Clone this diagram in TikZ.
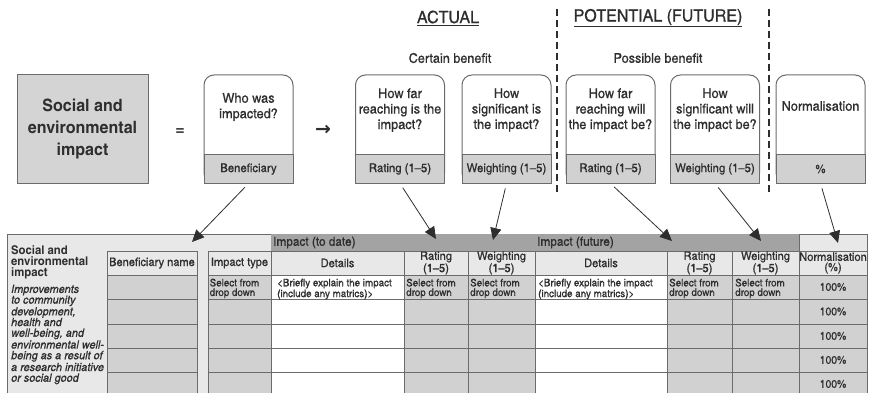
\documentclass[tikz,border=0pt]{standalone}
\usepackage{fontspec}
\setmainfont{texgyreheroscn}[Extension=.otf,UprightFont=*-regular,BoldFont=*-bold,ItalicFont=*-italic,BoldItalicFont=*-bolditalic,
  FakeStretch=1.15,UprightFeatures={FakeBold=0.6},ItalicFeatures={FakeBold=0.6}]
\newfontfamily\symfont{DejaVu Sans}
\usetikzlibrary{arrows.meta}

\definecolor{boxgray}{gray}{0.83}
\definecolor{tablebg}{gray}{0.91}
\definecolor{bandgray}{gray}{0.64}
\definecolor{cellgray}{gray}{0.82}
\definecolor{linegray}{gray}{0.42}
\definecolor{inkgray}{gray}{0.18}

\tikzset{
  qbox/.style={draw=linegray, line width=1pt, fill=white, rounded corners=10pt,
    minimum width=89pt, minimum height=108pt, inner sep=0pt},
  qtext/.style={align=center, inner sep=0pt, text=inkgray, font=\fontsize{13.5}{15.5}\selectfont},
  lblbox/.style={draw=linegray, line width=1pt, fill=cellgray, minimum width=89pt,
    minimum height=28pt, inner sep=0pt, text=inkgray, font=\fontsize{12}{13}\selectfont},
  hcell/.style={draw=linegray, line width=0.8pt, fill=tablebg, minimum height=24pt,
    inner sep=0pt, align=center, text=inkgray, font=\fontsize{11.7}{10.2}\selectfont},
  celltext/.style={anchor=north west, inner sep=0pt, align=left, text=inkgray,
    font=\fontsize{10.4}{9.6}\selectfont},
  pctext/.style={text=inkgray, font=\fontsize{11}{13}\selectfont},
  grid/.style={draw=linegray, line width=0.8pt},
  ptr/.style={-{Triangle[length=12pt,width=11pt]}, draw=inkgray, line width=0.8pt, shorten <=5pt},
  divider/.style={draw=inkgray, line width=1.6pt, dash pattern=on 7pt off 4pt}
}

\begin{document}
\begin{tikzpicture}[x=1pt,y=-1pt]
  \useasboundingbox (0,0) rectangle (870,393);

  % headings
  \node[text=inkgray, font=\fontsize{17}{20}\selectfont] (actual) at (448,18) {\underline{ACTUAL}};
  \node[text=inkgray, font=\fontsize{17}{20}\selectfont] (potential) at (658,18) {\underline{POTENTIAL (FUTURE)}};
  \node[text=inkgray, font=\fontsize{13.4}{15}\selectfont] (certain) at (450,58) {Certain benefit};
  \node[text=inkgray, font=\fontsize{13.4}{15}\selectfont] (possible) at (658,58) {Possible benefit};
  \draw[divider] (557,9) -- (557,192);
  \draw[divider] (769,9) -- (769,192);

  % formula row
  \node[draw=linegray, line width=1pt, fill=boxgray, minimum width=131pt, minimum height=108pt,
    align=center, text=inkgray, font=\bfseries\fontsize{17}{22}\selectfont] (sei) at (82.5,129)
    {Social and\\environmental\\impact};
  \node[text=inkgray, font=\bfseries\fontsize{18}{20}\selectfont] (equals) at (180,132) {=};
  \node[text=inkgray, font=\symfont\bfseries\fontsize{19}{20}\selectfont] (thenarrow) at (323,130) {→};

  \node[qbox] (who) at (248.5,129) {};
  \node[lblbox] (benef) at (248.5,169) {Beneficiary};
  \node[qtext] (whoq) at (248.5,107) {Who was\\impacted?};

  \node[qbox] (far) at (400,129) {};
  \node[lblbox] (rate) at (400,169) {Rating (1–5)};
  \node[qtext] (farq) at (400,110) {How far\\reaching is the\\impact?};

  \node[qbox] (sig) at (506.5,129) {};
  \node[lblbox] (weight) at (506.5,169) {Weighting (1–5)};
  \node[qtext] (sigq) at (506.5,110) {How\\significant is\\the impact?};

  \node[qbox] (farf) at (610.5,129) {};
  \node[lblbox] (ratef) at (610.5,169) {Rating (1–5)};
  \node[qtext] (farfq) at (610.5,110) {How far\\reaching will\\the impact be?};

  \node[qbox] (sigf) at (715,129) {};
  \node[lblbox] (weightf) at (715,169) {Weighting (1–5)};
  \node[qtext] (sigfq) at (715,110) {How\\significant will\\the impact be?};

  \node[qbox] (norm) at (820.5,129) {};
  \node[lblbox] (pct) at (820.5,169) {\%};
  \node[qtext] (normq) at (820.5,106) {Normalisation};

  % table
  \fill[tablebg] (7,234) rectangle (867,400);
  \draw[grid] (7,400) -- (7,234) -- (867,234);
  \fill[bandgray] (271,234) rectangle (799,251);
  \node[anchor=west, inner sep=0pt, text=inkgray, font=\fontsize{12.5}{14}\selectfont] (band) at (273,242.5) {Impact (to date)};
  \node[anchor=west, inner sep=0pt, text=inkgray, font=\fontsize{12.5}{14}\selectfont] (bandf) at (537,242.5) {Impact (future)};
  \node[hcell, minimum width=68pt, minimum height=17pt] (hnormtop) at (833,242.5) {};

  \fill[cellgray] (107,275) rectangle (197,400);
  \fill[cellgray] (208,275) rectangle (271,400);
  \fill[white] (271,275) rectangle (404,400);
  \fill[cellgray] (404,275) rectangle (535,400);
  \fill[white] (535,275) rectangle (667,400);
  \fill[cellgray] (667,275) rectangle (867,400);

  \node[hcell, minimum width=90pt] (hbenef) at (152,263) {Beneficiary name};
  \node[hcell, minimum width=63pt] (htype) at (239.5,263) {Impact type};
  \node[hcell, minimum width=133pt] (hdet) at (337.5,263) {Details};
  \node[hcell, minimum width=64pt] (hrate) at (436,263) {Rating\\(1–5)};
  \node[hcell, minimum width=67pt] (hweight) at (501.5,263) {Weighting\\(1–5)};
  \node[hcell, minimum width=132pt] (hdetf) at (601,263) {Details};
  \node[hcell, minimum width=65pt] (hratef) at (699.5,263) {Rating\\(1–5)};
  \node[hcell, minimum width=67pt] (hweightf) at (765.5,263) {Weighting\\(1–5)};
  \node[hcell, minimum width=68pt] (hnorm) at (833,263) {Normalisation\\(\%)};

  \draw[grid] (107,299) -- (197,299) (208,299) -- (867,299)
    (107,324) -- (197,324) (208,324) -- (867,324)
    (107,348) -- (197,348) (208,348) -- (867,348)
    (107,372) -- (197,372) (208,372) -- (867,372);
  \draw[grid] (107,275) -- (107,400) (197,275) -- (197,400) (208,275) -- (208,400)
    (271,275) -- (271,400) (404,275) -- (404,400) (468,275) -- (468,400)
    (535,275) -- (535,400) (667,275) -- (667,400) (732,275) -- (732,400)
    (799,275) -- (799,400) (867,234) -- (867,400);

  \node[celltext] (sel1) at (209.5,278.5) {Select from\\drop down};
  \node[celltext] (brief1) at (277,278.5) {<Briefly explain the impact\\(include any matrics)>};
  \node[celltext] (sel2) at (406,278.5) {Select from\\drop down};
  \node[celltext] (sel3) at (470,278.5) {Select from\\drop down};
  \node[celltext] (brief2) at (538,278.5) {<Briefly explain the impact\\(include any matrics)>};
  \node[celltext] (sel4) at (669,278.5) {Select from\\drop down};
  \node[celltext] (sel5) at (735,278.5) {Select from\\drop down};

  \node[pctext] (pc1) at (833,287) {100\%};
  \node[pctext] (pc2) at (833,311.5) {100\%};
  \node[pctext] (pc3) at (833,336) {100\%};
  \node[pctext] (pc4) at (833,360) {100\%};
  \node[pctext] (pc5) at (833,384) {100\%};

  \node[anchor=north west, inner sep=0pt, align=left, text=inkgray,
    font=\bfseries\fontsize{12}{11}\selectfont] (lefthead) at (11,245.5)
    {Social and\\environmental\\impact};
  \node[anchor=north west, inner sep=0pt, align=left, text=inkgray,
    font=\itshape\fontsize{11.5}{10.7}\selectfont] (leftdesc) at (11,284.5)
    {Improvements\\to community\\development,\\health and\\well-being, and\\environmental well-\\being as a result of\\a research initiative\\or social good};

  % arrows into the table
  \coordinate (t-benef) at (192,242);
  \coordinate (t-rate) at (436,239);
  \coordinate (t-weight) at (493,240);
  \coordinate (t-ratef) at (672,241);
  \coordinate (t-weightf) at (761,241);
  \coordinate (t-pct) at (838,243);
  \draw[ptr] (benef.south) -- (t-benef);
  \draw[ptr] (rate.south) -- (t-rate);
  \draw[ptr] (weight.south) -- (t-weight);
  \draw[ptr] (ratef.south) -- (t-ratef);
  \draw[ptr] (weightf.south) -- (t-weightf);
  \draw[ptr] (pct.south) -- (t-pct);

\end{tikzpicture}
\end{document}
